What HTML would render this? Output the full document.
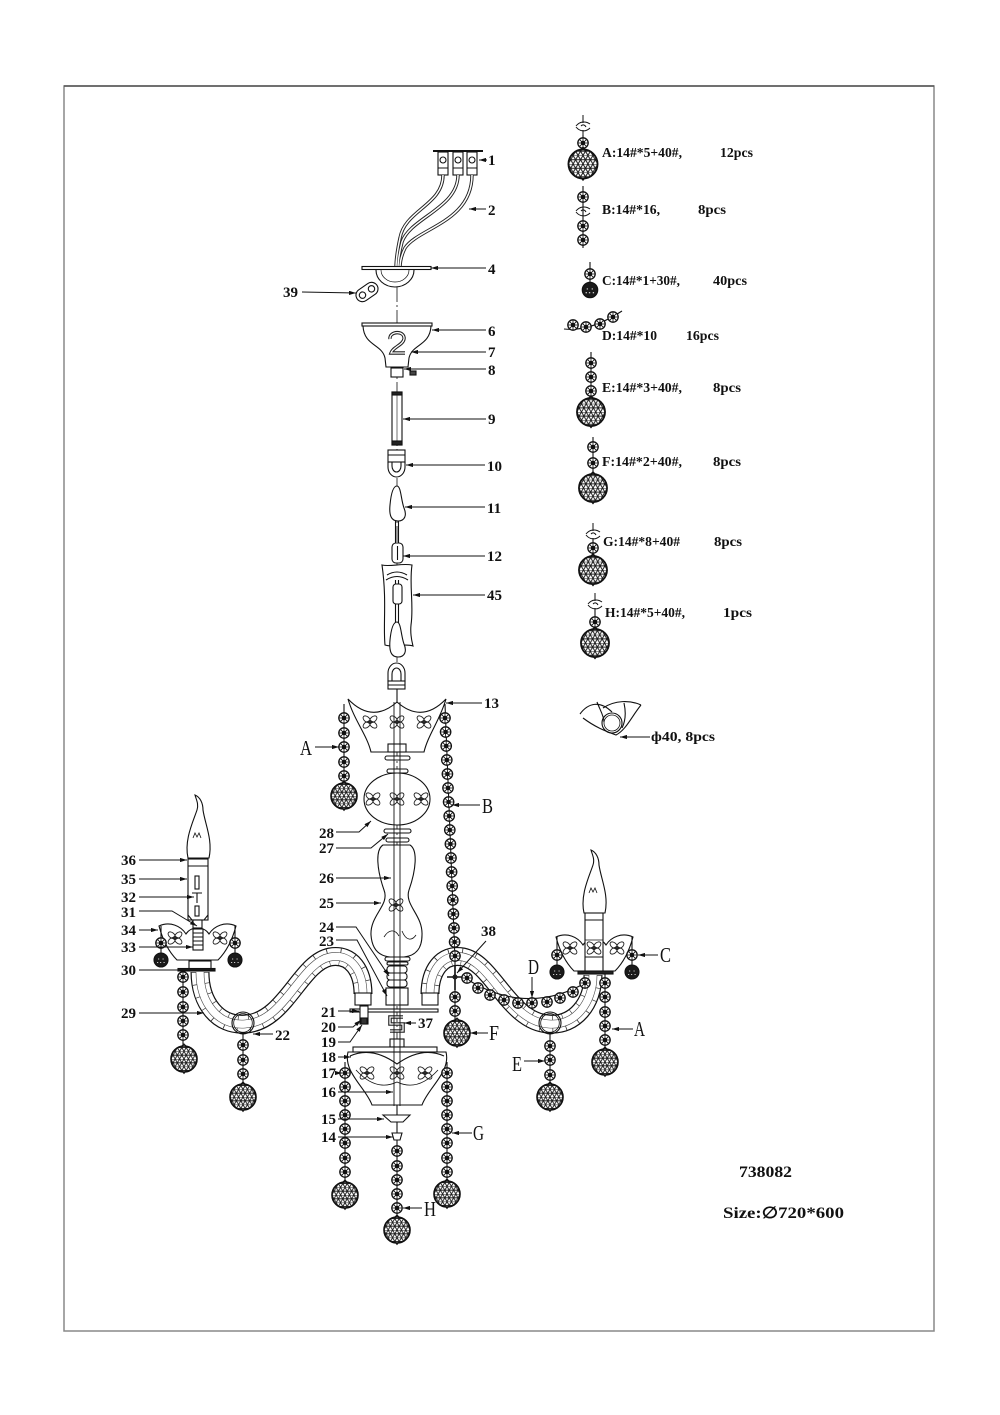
<!DOCTYPE html>
<html><head><meta charset="utf-8">
<style>
html,body{margin:0;padding:0;background:#fff;}
svg{display:block;}
.n{font-family:"Liberation Serif",serif;font-weight:bold;font-size:15px;fill:#111;stroke:none;}
.L{font-family:"Liberation Serif",serif;font-size:21px;fill:#111;stroke:none;}
.g{font-family:"Liberation Serif",serif;font-weight:bold;font-size:14px;fill:#111;stroke:none;}
.b{font-family:"Liberation Serif","DejaVu Serif",serif;font-weight:bold;font-size:16px;fill:#111;stroke:none;}
</style></head><body>
<svg width="1000" height="1415" viewBox="0 0 1000 1415" xmlns="http://www.w3.org/2000/svg">
<defs>
<pattern id="mesh" width="4.4" height="7.62" patternUnits="userSpaceOnUse">
 <path d="M0 0H4.4M0 3.81H4.4M0 0L4.4 7.62M4.4 0L0 7.62" stroke="#1a1a1a" stroke-width="0.9" fill="none"/>
</pattern>
<marker id="ar" viewBox="0 0 10 6" refX="10" refY="3" markerWidth="7" markerHeight="4.2" markerUnits="userSpaceOnUse" orient="auto-start-reverse">
 <path d="M0 0L10 3L0 6Z" fill="#111"/>
</marker>
<g id="bd"><circle r="5.2" fill="#fff" stroke="#111" stroke-width="1.3"/><path d="M-4.6 0H4.6M0 -4.6V4.6M-3.3 -3.3L3.3 3.3M-3.3 3.3L3.3 -3.3" stroke="#111" stroke-width="0.8" fill="none"/><circle r="1.7" fill="#111"/></g>
<g id="bl"><circle r="13" fill="#fff"/><circle r="13" fill="url(#mesh)" stroke="#111" stroke-width="1.6"/><path d="M-2.5 -12.5L0 -15L2.5 -12.5M-1.5 12.6L0 14.5L1.5 12.6" stroke="#111" stroke-width="1" fill="none"/></g>
<g id="sb"><circle r="7" fill="#1a1a1a"/><path d="M-3 -1h1.2M1.5 -1h1.2M-1 2.5h1.2M-4 2.5h1.2M2.5 2.5h1.2" stroke="#fff" stroke-width="0.8"/></g>
<g id="bf" fill="none" stroke="#222" stroke-width="0.9"><ellipse cx="0" cy="-4.3" rx="2.6" ry="4.2" transform="rotate(50)"/><ellipse cx="0" cy="-4.3" rx="2.6" ry="4.2" transform="rotate(130)"/><ellipse cx="0" cy="-4.3" rx="2.6" ry="4.2" transform="rotate(230)"/><ellipse cx="0" cy="-4.3" rx="2.6" ry="4.2" transform="rotate(310)"/><circle r="1.6"/></g>
<g id="eye" fill="none" stroke="#111" stroke-width="1"><path d="M0 -12V-4"/><path d="M-7 -1C-3 -6 3 -6 7 -3M-7 0C-3 5 3 5 7 1"/><path d="M-2 -1C0 -3 2 -2 3 0"/><path d="M0 3V8"/></g>
<path id="armL" d="M200 972C200 1003 218 1026 245 1024C285 1022 300 963 330 957C352 953 363 972 363 994"/>
<path id="armR" d="M593 975C593 1003 575 1026 549 1024C509 1022 493 963 463 957C441 953 430 972 430 994"/>
</defs>

<!-- frame -->
<rect x="64" y="86" width="870" height="1245" fill="none" stroke="#888" stroke-width="1.5"/>
<line x1="64" y1="86" x2="934" y2="86" stroke="#555" stroke-width="1.5"/>

<g fill="none" stroke="#111" stroke-width="1.1">
<!-- axis -->
<line x1="397" y1="262" x2="397" y2="1146" stroke-width="0.8" stroke-dasharray="16 3 2 3"/>

<!-- part 1 -->
<path d="M433 151H483" stroke-width="2"/>
<rect x="438" y="152" width="10" height="23" fill="#fff"/>
<rect x="453" y="152" width="10" height="23" fill="#fff"/>
<rect x="467" y="152" width="10" height="23" fill="#fff"/>
<path d="M438 168H448M453 168H463M467 168H477"/>
<circle cx="443" cy="160" r="3"/><circle cx="458" cy="160" r="3"/><circle cx="472" cy="160" r="3"/>
<!-- wires -->
<g stroke="#222" stroke-width="3.4">
<path d="M443 175C443 205 405 210 400 238C397 252 396 262 396 268"/>
<path d="M458 175C458 208 410 218 402 242C399 254 398 262 398 268"/>
<path d="M472 175C472 222 418 228 405 248C401 256 400 262 400 268"/>
</g>
<g stroke="#fff" stroke-width="1.5">
<path d="M443 175C443 205 405 210 400 238C397 252 396 262 396 268"/>
<path d="M458 175C458 208 410 218 402 242C399 254 398 262 398 268"/>
<path d="M472 175C472 222 418 228 405 248C401 256 400 262 400 268"/>
</g>
<!-- part 4 -->
<path d="M376 270A19 17 0 0 0 414 270" fill="#fff"/>
<path d="M381 270A14 12 0 0 0 409 270" stroke-width="0.7"/>
<rect x="362" y="266.5" width="69" height="3" fill="#fff"/>
<!-- 39 -->
<g transform="translate(367,292) rotate(-35)"><rect x="-12" y="-6.5" width="24" height="13" rx="6.5" fill="#fff"/><circle cx="-5.5" r="3.2"/><circle cx="5.5" r="3.2"/></g>
<!-- canopy 6 -->
<path d="M363 326C364 346 382 344 385 358L386 367H408L409 358C412 344 430 346 431 326Z" fill="#fff"/>
<rect x="362" y="323" width="70" height="3" fill="#fff"/>
<path d="M390 339C389 331 405 330 404 339C403 345 393 347 391 353H405" stroke="#222" stroke-width="3.4"/>
<path d="M390 339C389 331 405 330 404 339C403 345 393 347 391 353H405" stroke="#fff" stroke-width="1.3"/>
<!-- 8 -->
<rect x="391" y="368" width="12" height="9" fill="#fff"/>
<rect x="410" y="371" width="6" height="4" fill="#444"/>
<!-- 9 -->
<rect x="392" y="392" width="10" height="53" fill="#fff"/>
<rect x="392" y="392" width="10" height="3" fill="#222"/>
<rect x="392" y="441" width="10" height="4" fill="#222"/>
<line x1="397" y1="395" x2="397" y2="441" stroke-width="0.6"/>
<!-- 10 -->
<path d="M388 462V467A8.5 10 0 0 0 405 467V462" fill="#fff"/>
<path d="M392 462V466A4.5 6 0 0 0 401 466V462"/>
<rect x="388" y="450" width="17" height="12" fill="#fff"/>
<line x1="388" y1="455" x2="405" y2="455"/>
<!-- 11 -->
<path d="M397 486C393 486 391 494 390 505C389 515 391 521 398 521C405 521 407 515 404 508C401 500 401 486 397 486Z" fill="#fff"/>
<path d="M395.5 521V544M398.5 521V544"/>
<!-- 12 -->
<rect x="392" y="543" width="11" height="20" rx="4" fill="#fff"/>
<line x1="397.5" y1="546" x2="397.5" y2="560"/>
<!-- 45 -->
<path d="M382 565C390 567 402 563 412 565C409 585 414 605 411 625C410 635 412 642 413 646C404 643 394 648 385 645C383 625 387 600 382 565Z" fill="#fff"/>
<path d="M387 575Q397 569 407 575M386 580Q397 573 408 580"/>
<path d="M395.5 580V604M398.5 580V604M395.5 604V624M398.5 604V624"/>
<rect x="393" y="584" width="9" height="20" rx="3" fill="#fff"/>
<path d="M397 622C393 622 391 630 390 640C389 651 391 657 398 657C405 657 407 651 404 644C401 636 401 622 397 622Z" fill="#fff"/>
<path d="M388 681V673A8.5 10 0 0 1 405 673V681Z" fill="#fff"/>
<path d="M392 681V674A4.5 6 0 0 1 401 674V681"/>
<rect x="388" y="681" width="17" height="8" fill="#fff"/>
<line x1="388" y1="685" x2="405" y2="685"/>
<line x1="397" y1="689" x2="397" y2="702"/>

<!-- ARMS -->
<g>
<use href="#armL" stroke="#111" stroke-width="19"/>
<use href="#armL" stroke="#fff" stroke-width="16.6"/>
<use href="#armL" stroke="#333" stroke-width="16.6" stroke-dasharray="0.7 11"/>
<use href="#armL" stroke="#444" stroke-width="8.6"/>
<use href="#armL" stroke="#fff" stroke-width="7.4"/>
<use href="#armR" stroke="#111" stroke-width="19"/>
<use href="#armR" stroke="#fff" stroke-width="16.6"/>
<use href="#armR" stroke="#333" stroke-width="16.6" stroke-dasharray="0.7 11"/>
<use href="#armR" stroke="#444" stroke-width="8.6"/>
<use href="#armR" stroke="#fff" stroke-width="7.4"/>
</g>
<rect x="355" y="993" width="16" height="12" fill="#fff"/>
<rect x="422" y="993" width="16" height="12" fill="#fff"/>
<!-- rings 22 / E -->
<circle cx="243" cy="1023" r="11"/><circle cx="243" cy="1023" r="9.3" stroke-width="0.8"/>
<circle cx="550" cy="1023" r="11"/><circle cx="550" cy="1023" r="9.3" stroke-width="0.8"/>

<!-- bowl 13 -->
<path d="M348 699Q372 724 397 702Q422 724 446 699C440 720 428 735 424 752H371C367 735 354 720 348 699Z" fill="#fff"/>
<use href="#bf" x="370" y="722"/><use href="#bf" x="397" y="722"/><use href="#bf" x="424" y="722"/>
<rect x="388" y="744" width="18" height="8" fill="#fff"/>
<rect x="385" y="756" width="25" height="4" rx="2" fill="#fff"/>
<rect x="387" y="769" width="21" height="4" rx="2" fill="#fff"/>
<!-- ball 28 -->
<ellipse cx="397" cy="799" rx="33" ry="26" fill="#fff"/>
<use href="#bf" x="373" y="799"/><use href="#bf" x="397" y="799"/><use href="#bf" x="421" y="799"/>
<rect x="384" y="829" width="27" height="4" rx="2" fill="#fff"/>
<rect x="386" y="838" width="23" height="4" rx="2" fill="#fff"/>
<!-- vase 26 -->
<path d="M383 845C375 850 377 870 384 890C390 905 370 915 371 935C372 950 380 956 390 957H404C414 956 422 950 422 935C423 915 404 905 409 890C416 870 418 850 410 845Z" fill="#fff"/>
<use href="#bf" x="396" y="905"/>
<path d="M384 937C389 929 395 929 399 936M402 931C406 941 412 941 416 935" stroke-width="0.8"/>
<rect x="385" y="957" width="25" height="4" rx="2" fill="#fff"/>
<rect x="387" y="962" width="21" height="3" rx="1.5" fill="#fff"/>
<rect x="387" y="966" width="20" height="7" rx="3" fill="#fff"/>
<rect x="387" y="973" width="20" height="7" rx="3" fill="#fff"/>
<rect x="387" y="980" width="20" height="7" rx="3" fill="#fff"/>
<rect x="386" y="988" width="22" height="17" fill="#fff"/>
<!-- plate 21 etc -->
<rect x="350" y="1009" width="88" height="3" fill="#fff"/>
<rect x="360" y="1006" width="8" height="18" fill="#fff"/>
<rect x="361" y="1018" width="6" height="6" fill="#333"/>
<path d="M403 1017H390V1024H403V1031H390" stroke="#222" stroke-width="3.6"/>
<path d="M403 1017H390V1024H403V1031H390" stroke="#fff" stroke-width="1.3"/>
<rect x="390" y="1039" width="14" height="8" fill="#fff"/>
<!-- bowl 18 -->
<path d="M348 1052C343 1072 366 1088 372 1105H422C428 1088 451 1072 446 1052Z" fill="#fff"/>
<rect x="353" y="1047" width="84" height="5" fill="#fff"/>
<path d="M350 1056Q372 1046 397 1064Q422 1046 444 1056"/>
<path d="M356 1070Q376 1092 397 1082Q418 1092 438 1070" stroke-width="0.8"/>
<use href="#bf" x="367" y="1073"/><use href="#bf" x="397" y="1073"/><use href="#bf" x="425" y="1073"/>
<!-- rod -->
<path d="M394 702V1106M400 702V1106" stroke-width="0.9"/>
<!-- 15, 14 -->
<line x1="397" y1="1105" x2="397" y2="1115"/>
<path d="M383 1115H410L403 1122H391Z" fill="#fff"/>
<line x1="397" y1="1122" x2="397" y2="1133"/>
<path d="M392 1133H402L400 1140H394Z" fill="#fff"/>

<!-- LEFT CANDLE -->
<path d="M188 858C184 840 193 822 197 810C199 804 196 799 195 795C200 797 203 803 203 810C205 824 213 840 209 858Z" fill="#fff"/>
<path d="M193 838L195 833L197 837L199 833L201 838" stroke-width="0.8"/>
<rect x="188" y="859" width="20" height="61" fill="#fff"/>
<line x1="188" y1="866" x2="208" y2="866"/>
<rect x="195" y="876" width="4" height="13"/>
<path d="M192 893H202M197 893V903"/>
<rect x="195" y="906" width="4" height="10"/>
<path d="M188 915L192 920H204L208 915"/>
<path d="M159 926C170 921 181 926 186 934C191 926 204 926 209 934C214 926 225 921 236 926C232 941 226 952 218 960H177C169 952 163 941 159 926Z" fill="#fff"/>
<use href="#bf" x="175" y="938"/><use href="#bf" x="220" y="938"/>
<rect x="193" y="920" width="9" height="8" fill="#fff"/>
<rect x="193" y="929" width="10" height="21" fill="#fff"/>
<path d="M193 933H203M193 937H203M193 941H203M193 945H203"/>
<rect x="189" y="961" width="22" height="9" fill="#fff"/>
<rect x="178" y="968.5" width="37" height="2.5" fill="#222"/>

<!-- RIGHT CANDLE -->
<path d="M584 913C580 895 589 877 593 865C595 859 592 854 591 850C596 852 599 858 599 865C601 879 609 895 605 913Z" fill="#fff"/>
<path d="M589 893L591 888L593 892L595 888L597 893" stroke-width="0.8"/>
<path d="M556 937C567 932 578 937 583 945C588 937 601 937 606 945C611 937 622 932 633 937C629 952 623 963 615 971H574C566 963 560 952 556 937Z" fill="#fff"/>
<use href="#bf" x="570" y="948"/><use href="#bf" x="617" y="948"/>
<rect x="585" y="913" width="18" height="60" fill="#fff"/>
<line x1="585" y1="920" x2="603" y2="920"/>
<line x1="585" y1="940" x2="603" y2="940" stroke-width="0.7"/>
<use href="#bf" x="594" y="948"/>
<line x1="585" y1="957" x2="603" y2="957"/>
<rect x="578" y="971" width="35" height="3" fill="#222"/>

<!-- CHAINS -->
<path d="M344 704V790"/>
<use href="#bd" x="344" y="718"/><use href="#bd" x="344" y="733"/><use href="#bd" x="344" y="747"/><use href="#bd" x="344" y="762"/><use href="#bd" x="344" y="776"/>
<use href="#bl" x="344" y="796"/>

<path d="M445 704L455 960V1022"/>
<use href="#bd" x="445" y="718"/><use href="#bd" x="445.6" y="732"/><use href="#bd" x="446.2" y="746"/><use href="#bd" x="446.8" y="760"/><use href="#bd" x="447.4" y="774"/><use href="#bd" x="448" y="788"/><use href="#bd" x="448.6" y="802"/><use href="#bd" x="449.2" y="816"/><use href="#bd" x="449.8" y="830"/><use href="#bd" x="450.4" y="844"/><use href="#bd" x="451" y="858"/><use href="#bd" x="451.6" y="872"/><use href="#bd" x="452.2" y="886"/><use href="#bd" x="452.8" y="900"/><use href="#bd" x="453.4" y="914"/><use href="#bd" x="454" y="928"/><use href="#bd" x="454.6" y="942"/><use href="#bd" x="455" y="956"/>
<path d="M447 977H464M455 966V990" stroke-width="1.6"/>
<circle cx="455" cy="977" r="2"/>
<use href="#bd" x="455" y="997"/><use href="#bd" x="455" y="1011"/>
<use href="#bl" x="457" y="1033"/>

<path d="M462 976Q525 1018 587 982"/>
<use href="#bd" x="467" y="978"/><use href="#bd" x="478" y="988"/><use href="#bd" x="490" y="995"/><use href="#bd" x="504" y="1000"/><use href="#bd" x="518" y="1003"/><use href="#bd" x="532" y="1003"/><use href="#bd" x="547" y="1002"/><use href="#bd" x="560" y="998"/><use href="#bd" x="573" y="992"/><use href="#bd" x="585" y="983"/>

<path d="M183 971V1048"/>
<use href="#bd" x="183" y="977"/><use href="#bd" x="183" y="992"/><use href="#bd" x="183" y="1007"/><use href="#bd" x="183" y="1021"/><use href="#bd" x="183" y="1035"/>
<use href="#bl" x="184" y="1059"/>
<path d="M243 1034V1085"/>
<use href="#bd" x="243" y="1045"/><use href="#bd" x="243" y="1060"/><use href="#bd" x="243" y="1074"/>
<use href="#bl" x="243" y="1097"/>

<path d="M605 974V1050"/>
<use href="#bd" x="605" y="983"/><use href="#bd" x="605" y="997"/><use href="#bd" x="605" y="1012"/><use href="#bd" x="605" y="1026"/><use href="#bd" x="605" y="1040"/>
<use href="#bl" x="605" y="1062"/>
<path d="M550 1034V1085"/>
<use href="#bd" x="550" y="1046"/><use href="#bd" x="550" y="1060"/><use href="#bd" x="550" y="1075"/>
<use href="#bl" x="550" y="1097"/>

<path d="M161 926V955M235 926V955M557 937V966M632 937V966"/>
<use href="#bd" x="161" y="943"/><use href="#sb" x="161" y="960"/>
<use href="#bd" x="235" y="943"/><use href="#sb" x="235" y="960"/>
<use href="#bd" x="557" y="955"/><use href="#sb" x="557" y="972"/>
<use href="#bd" x="632" y="955"/><use href="#sb" x="632" y="972"/>

<path d="M345 1062V1185"/>
<use href="#bd" x="345" y="1073"/><use href="#bd" x="345" y="1087"/><use href="#bd" x="345" y="1101"/><use href="#bd" x="345" y="1115"/><use href="#bd" x="345" y="1129"/><use href="#bd" x="345" y="1143"/><use href="#bd" x="345" y="1158"/><use href="#bd" x="345" y="1172"/>
<use href="#bl" x="345" y="1195"/>
<path d="M447 1062V1185"/>
<use href="#bd" x="447" y="1073"/><use href="#bd" x="447" y="1087"/><use href="#bd" x="447" y="1101"/><use href="#bd" x="447" y="1115"/><use href="#bd" x="447" y="1129"/><use href="#bd" x="447" y="1143"/><use href="#bd" x="447" y="1158"/><use href="#bd" x="447" y="1172"/>
<use href="#bl" x="447" y="1194"/>
<path d="M397 1140V1218"/>
<use href="#bd" x="397" y="1151"/><use href="#bd" x="397" y="1166"/><use href="#bd" x="397" y="1180"/><use href="#bd" x="397" y="1194"/><use href="#bd" x="397" y="1208"/>
<use href="#bl" x="397" y="1230"/>

<!-- LEGEND ICONS -->
<path d="M583 135V150"/>
<use href="#eye" x="583" y="127"/><use href="#bd" x="583" y="143"/>
<use href="#bl" transform="translate(583,164) scale(1.12)"/>
<path d="M583 186V248"/>
<use href="#bd" x="583" y="197"/><use href="#eye" x="583" y="212"/><use href="#bd" x="583" y="226"/><use href="#bd" x="583" y="240"/>
<path d="M590 262V285"/>
<use href="#bd" x="590" y="274"/><use href="#sb" transform="translate(590,290) scale(1.1)"/>
<path d="M564 329Q590 332 622 311"/>
<use href="#bd" x="573" y="325"/><use href="#bd" x="586" y="327"/><use href="#bd" x="600" y="324"/><use href="#bd" x="613" y="317"/>
<path d="M591 352V400"/>
<use href="#bd" x="591" y="363"/><use href="#bd" x="591" y="377"/><use href="#bd" x="591" y="391"/>
<use href="#bl" transform="translate(591,412) scale(1.08)"/>
<path d="M593 437V475"/>
<use href="#bd" x="593" y="447"/><use href="#bd" x="593" y="463"/>
<use href="#bl" transform="translate(593,488) scale(1.08)"/>
<path d="M593 540V558"/>
<use href="#eye" x="593" y="535"/><use href="#bd" x="593" y="548"/>
<use href="#bl" transform="translate(593,570) scale(1.08)"/>
<path d="M595 610V632"/>
<use href="#eye" x="595" y="605"/><use href="#bd" x="595" y="622"/>
<use href="#bl" transform="translate(595,643) scale(1.08)"/>
<!-- phi40 icon -->
<path d="M580 714C588 703 600 700 612 712M583 718C595 727 605 731 616 735C626 730 632 716 641 705M603 708C615 700 630 700 641 705M597 702C600 710 604 716 604 722M624 703C626 712 626 720 622 728"/>
<circle cx="612" cy="723" r="10"/><circle cx="612" cy="723" r="8" stroke-width="0.8"/>

<!-- LEADERS -->
<g marker-start="url(#ar)" stroke-width="1">
<path d="M479 160H487"/><path d="M469 209H486"/><path d="M431 268H486"/><path d="M432 330H486"/><path d="M411 352H486"/><path d="M404 369H486"/><path d="M403 419H486"/><path d="M406 465H485"/><path d="M405 507H485"/><path d="M403 556H485"/><path d="M413 595H485"/><path d="M446 703H482"/>
<path d="M356 293L302 292"/>
<path d="M187 860H139"/><path d="M187 879H139"/><path d="M194 897H139"/><path d="M197 926L172 911H139"/><path d="M158 930H139"/><path d="M193 947H139"/><path d="M204 1013H139"/><path d="M253 1034H273"/>
<path d="M371 821L359 832H336"/><path d="M388 834L371 848H336"/><path d="M391 878H336"/><path d="M381 903H336"/><path d="M389 976L356 927H336"/><path d="M387 996L357 940H336"/>
<path d="M359 1011H338"/><path d="M361 1020L353 1027H338"/><path d="M362 1025L350 1042H338"/><path d="M404 1023H416"/><path d="M351 1057H338"/><path d="M342 1073H338"/><path d="M393 1092H338"/><path d="M384 1119H338"/><path d="M393 1137H338"/>
<path d="M339 747H315"/><path d="M452 805H480"/><path d="M457 973L486 941"/><path d="M532 998V977"/><path d="M638 955H658"/><path d="M612 1029H633"/><path d="M545 1061H524"/><path d="M470 1033H488"/><path d="M452 1133H472"/><path d="M403 1208H422"/><path d="M620 737H650"/>
</g>
<path d="M215 970H139" stroke-width="1"/>
</g>

<!-- TEXT -->
<g>
<text class="n" x="488" y="165">1</text>
<text class="n" x="488" y="215">2</text>
<text class="n" x="488" y="274">4</text>
<text class="n" x="488" y="336">6</text>
<text class="n" x="488" y="357">7</text>
<text class="n" x="488" y="375">8</text>
<text class="n" x="488" y="424">9</text>
<text class="n" x="487" y="471">10</text>
<text class="n" x="487" y="513">11</text>
<text class="n" x="487" y="561">12</text>
<text class="n" x="487" y="600">45</text>
<text class="n" x="484" y="708">13</text>
<text class="n" x="283" y="297">39</text>
<text class="n" x="121" y="865">36</text>
<text class="n" x="121" y="884">35</text>
<text class="n" x="121" y="902">32</text>
<text class="n" x="121" y="917">31</text>
<text class="n" x="121" y="935">34</text>
<text class="n" x="121" y="952">33</text>
<text class="n" x="121" y="975">30</text>
<text class="n" x="121" y="1018">29</text>
<text class="n" x="275" y="1040">22</text>
<text class="n" x="319" y="838">28</text>
<text class="n" x="319" y="853">27</text>
<text class="n" x="319" y="883">26</text>
<text class="n" x="319" y="908">25</text>
<text class="n" x="319" y="932">24</text>
<text class="n" x="319" y="946">23</text>
<text class="n" x="321" y="1017">21</text>
<text class="n" x="321" y="1032">20</text>
<text class="n" x="321" y="1047">19</text>
<text class="n" x="418" y="1028">37</text>
<text class="n" x="321" y="1062">18</text>
<text class="n" x="321" y="1078">17</text>
<text class="n" x="321" y="1097">16</text>
<text class="n" x="321" y="1124">15</text>
<text class="n" x="321" y="1142">14</text>
<text class="n" x="481" y="936">38</text>

<text class="L" x="300" y="755" textLength="12" lengthAdjust="spacingAndGlyphs">A</text>
<text class="L" x="482" y="813" textLength="11" lengthAdjust="spacingAndGlyphs">B</text>
<text class="L" x="489" y="1040" textLength="10" lengthAdjust="spacingAndGlyphs">F</text>
<text class="L" x="473" y="1140" textLength="11" lengthAdjust="spacingAndGlyphs">G</text>
<text class="L" x="424" y="1216" textLength="12" lengthAdjust="spacingAndGlyphs">H</text>
<text class="L" x="512" y="1071" textLength="10" lengthAdjust="spacingAndGlyphs">E</text>
<text class="L" x="634" y="1036" textLength="11" lengthAdjust="spacingAndGlyphs">A</text>
<text class="L" x="660" y="962" textLength="11" lengthAdjust="spacingAndGlyphs">C</text>
<text class="L" x="528" y="974" textLength="11" lengthAdjust="spacingAndGlyphs">D</text>

<text class="g" x="602" y="157" textLength="80" lengthAdjust="spacingAndGlyphs">A:14#*5+40#,</text>
<text class="g" x="720" y="157" textLength="33" lengthAdjust="spacingAndGlyphs">12pcs</text>
<text class="g" x="602" y="214" textLength="58" lengthAdjust="spacingAndGlyphs">B:14#*16,</text>
<text class="g" x="698" y="214" textLength="28" lengthAdjust="spacingAndGlyphs">8pcs</text>
<text class="g" x="602" y="285" textLength="78" lengthAdjust="spacingAndGlyphs">C:14#*1+30#,</text>
<text class="g" x="713" y="285" textLength="34" lengthAdjust="spacingAndGlyphs">40pcs</text>
<text class="g" x="602" y="340" textLength="55" lengthAdjust="spacingAndGlyphs">D:14#*10</text>
<text class="g" x="686" y="340" textLength="33" lengthAdjust="spacingAndGlyphs">16pcs</text>
<text class="g" x="602" y="392" textLength="80" lengthAdjust="spacingAndGlyphs">E:14#*3+40#,</text>
<text class="g" x="713" y="392" textLength="28" lengthAdjust="spacingAndGlyphs">8pcs</text>
<text class="g" x="602" y="466" textLength="80" lengthAdjust="spacingAndGlyphs">F:14#*2+40#,</text>
<text class="g" x="713" y="466" textLength="28" lengthAdjust="spacingAndGlyphs">8pcs</text>
<text class="g" x="603" y="546" textLength="77" lengthAdjust="spacingAndGlyphs">G:14#*8+40#</text>
<text class="g" x="714" y="546" textLength="28" lengthAdjust="spacingAndGlyphs">8pcs</text>
<text class="g" x="605" y="617" textLength="80" lengthAdjust="spacingAndGlyphs">H:14#*5+40#,</text>
<text class="g" x="723" y="617" textLength="29" lengthAdjust="spacingAndGlyphs">1pcs</text>
<text class="g" x="651" y="741" textLength="64" lengthAdjust="spacingAndGlyphs">ф40, 8pcs</text>

<text class="b" x="739" y="1177" textLength="53" lengthAdjust="spacingAndGlyphs">738082</text>
<text class="b" x="723" y="1218" textLength="121" lengthAdjust="spacingAndGlyphs">Size:∅720*600</text>
</g>
</svg>
</body></html>
